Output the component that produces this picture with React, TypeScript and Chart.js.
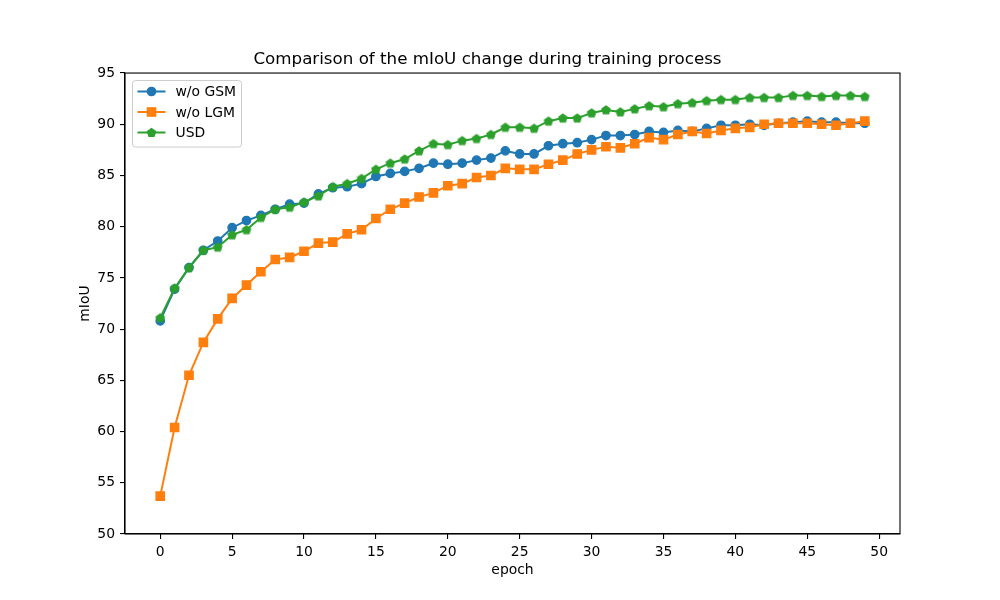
import React, { useEffect, useRef } from "react";
import { Chart, registerables } from "chart.js";

Chart.register(...registerables);

const epochs: number[] = Array.from({ length: 50 }, (_, i) => i);

const gsmValues: number[] = [
  70.8, 73.9, 76.0, 77.7, 78.6, 79.9, 80.6, 81.1, 81.7, 82.2,
  82.3, 83.2, 83.8, 83.9, 84.2, 84.9, 85.2, 85.4, 85.7, 86.2,
  86.1, 86.2, 86.5, 86.7, 87.4, 87.1, 87.1, 87.9, 88.1, 88.2,
  88.5, 88.9, 88.9, 89.0, 89.3, 89.2, 89.4, 89.3, 89.6, 89.9,
  89.9, 90.0, 89.9, 90.1, 90.2, 90.3, 90.2, 90.2, 90.1, 90.1,
];

const lgmValues: number[] = [
  53.7, 60.4, 65.5, 68.7, 71.0, 73.0, 74.3, 75.6, 76.8, 77.0,
  77.6, 78.4, 78.5, 79.3, 79.7, 80.8, 81.7, 82.3, 82.9, 83.3,
  84.0, 84.2, 84.8, 85.0, 85.7, 85.6, 85.6, 86.1, 86.5, 87.1,
  87.5, 87.8, 87.7, 88.1, 88.7, 88.5, 89.0, 89.3, 89.1, 89.4,
  89.6, 89.7, 90.0, 90.1, 90.1, 90.1, 90.0, 89.9, 90.1, 90.3,
];

const usdValues: number[] = [
  71.1, 74.0, 76.0, 77.7, 78.0, 79.2, 79.7, 80.9, 81.7, 81.9,
  82.4, 83.0, 83.9, 84.2, 84.7, 85.6, 86.2, 86.6, 87.4, 88.1,
  88.0, 88.4, 88.6, 89.0, 89.7, 89.7, 89.6, 90.3, 90.6, 90.6,
  91.1, 91.4, 91.2, 91.5, 91.8, 91.7, 92.0, 92.1, 92.3, 92.4,
  92.4, 92.6, 92.6, 92.6, 92.8, 92.8, 92.7, 92.8, 92.8, 92.7,
];

const xTicks: number[] = [0, 5, 10, 15, 20, 25, 30, 35, 40, 45, 50];
const seriesNames: string[] = ["w/o GSM", "w/o LGM", "USD"];
const seriesColors: string[] = ["#1f77b4", "#ff7f0e", "#2ca02c"];
const titleText = "Comparison of the mIoU change during training process";
const xTitle = "epoch";
const yTitle = "mIoU";

const FONT = "'DejaVu Sans', sans-serif";

function pentagonPath(ctx: CanvasRenderingContext2D, cx: number, cy: number, r: number) {
  ctx.beginPath();
  for (let i = 0; i < 5; i++) {
    const a = -Math.PI / 2 + (i * 2 * Math.PI) / 5;
    const px = cx + r * Math.cos(a);
    const py = cy + r * Math.sin(a);
    if (i === 0) ctx.moveTo(px, py);
    else ctx.lineTo(px, py);
  }
  ctx.closePath();
}

function makePentagon(color: string): HTMLCanvasElement {
  const c = document.createElement("canvas");
  c.width = 12;
  c.height = 12;
  const ctx = c.getContext("2d")!;
  pentagonPath(ctx, 6, 6.3, 4.3);
  ctx.fillStyle = color;
  ctx.fill();
  ctx.strokeStyle = color;
  ctx.lineWidth = 1.3;
  ctx.lineJoin = "miter";
  ctx.stroke();
  return c;
}

const framePlugin = {
  id: "frameBox",
  afterDatasetsDraw(chart: any) {
    const { ctx, chartArea } = chart;
    ctx.save();
    ctx.strokeStyle = "#000";
    ctx.lineWidth = 1.1;
    ctx.strokeRect(chartArea.left, chartArea.top, chartArea.right - chartArea.left, chartArea.bottom - chartArea.top);
    ctx.restore();
  },
};

const legendPlugin = {
  id: "innerLegend",
  afterDraw(chart: any) {
    const { ctx, chartArea } = chart;
    const x0 = chartArea.left + 7.5;
    const y0 = chartArea.top + 7.5;
    const w = 109;
    const h = 66.5;
    ctx.save();
    ctx.globalAlpha = 0.8;
    ctx.fillStyle = "#fff";
    ctx.strokeStyle = "#cccccc";
    ctx.lineWidth = 1;
    ctx.beginPath();
    const r = 3;
    ctx.moveTo(x0 + r, y0);
    ctx.lineTo(x0 + w - r, y0);
    ctx.quadraticCurveTo(x0 + w, y0, x0 + w, y0 + r);
    ctx.lineTo(x0 + w, y0 + h - r);
    ctx.quadraticCurveTo(x0 + w, y0 + h, x0 + w - r, y0 + h);
    ctx.lineTo(x0 + r, y0 + h);
    ctx.quadraticCurveTo(x0, y0 + h, x0, y0 + h - r);
    ctx.lineTo(x0, y0 + r);
    ctx.quadraticCurveTo(x0, y0, x0 + r, y0);
    ctx.closePath();
    ctx.fill();
    ctx.globalAlpha = 1;
    ctx.stroke();

    const rows = [91.5, 112, 132.5];
    rows.forEach((ry, i) => {
      const color = seriesColors[i];
      ctx.strokeStyle = color;
      ctx.fillStyle = color;
      ctx.lineWidth = 2;
      ctx.beginPath();
      ctx.moveTo(137.5, ry);
      ctx.lineTo(165.5, ry);
      ctx.stroke();
      const mx = 151.5;
      ctx.lineWidth = 1.3;
      if (i === 0) {
        ctx.beginPath();
        ctx.arc(mx, ry, 4.2, 0, Math.PI * 2);
        ctx.fill();
        ctx.stroke();
      } else if (i === 1) {
        ctx.beginPath();
        ctx.rect(mx - 4.2, ry - 4.2, 8.4, 8.4);
        ctx.fill();
        ctx.stroke();
      } else {
        pentagonPath(ctx, mx, ry + 0.3, 4.3);
        ctx.fill();
        ctx.stroke();
      }
      ctx.fillStyle = "#000";
      ctx.font = `13.9px ${FONT}`;
      ctx.textBaseline = "middle";
      ctx.textAlign = "left";
      ctx.fillText(seriesNames[i], 175.5, ry + 1);
    });
    ctx.restore();
  },
};

export default function App() {
  const ref = useRef<HTMLCanvasElement | null>(null);

  useEffect(() => {
    document.body.style.margin = "0";
    const canvas = ref.current;
    if (!canvas) return;
    const pent = makePentagon(seriesColors[2]);
    const toPts = (vals: number[]) => epochs.map((e, i) => ({ x: e, y: vals[i] }));

    const chart = new Chart(canvas, {
      type: "line",
      data: {
        datasets: [
          {
            label: seriesNames[0],
            data: toPts(gsmValues),
            borderColor: seriesColors[0],
            backgroundColor: seriesColors[0],
            borderWidth: 2,
            pointStyle: "circle",
            pointRadius: 4.2,
            pointBorderWidth: 1.3,
            order: 3,
          },
          {
            label: seriesNames[1],
            data: toPts(lgmValues),
            borderColor: seriesColors[1],
            backgroundColor: seriesColors[1],
            borderWidth: 2,
            pointStyle: "rect",
            pointRadius: 5.9,
            pointBorderWidth: 1.3,
            order: 2,
          },
          {
            label: seriesNames[2],
            data: toPts(usdValues),
            borderColor: seriesColors[2],
            backgroundColor: seriesColors[2],
            borderWidth: 2,
            pointStyle: pent as any,
            pointRadius: 4.3,
            order: 1,
          },
        ],
      },
      options: {
        responsive: false,
        animation: false,
        devicePixelRatio: 1,
        layout: { padding: { left: 75, right: 100, top: 0, bottom: 20 } },
        plugins: {
          legend: { display: false },
          tooltip: { enabled: false },
          title: {
            display: true,
            text: titleText,
            color: "#000",
            font: { family: FONT, size: 16.7, weight: "normal" as any },
            padding: { top: 50, bottom: 3 },
          },
        },
        scales: {
          x: {
            type: "linear",
            min: -2.45,
            max: 51.45,
            afterBuildTicks: (scale: any) => {
              scale.ticks = xTicks.map((v) => ({ value: v }));
            },
            afterFit: (scale: any) => {
              scale.height = 46;
            },
            ticks: {
              color: "#000",
              font: { family: FONT, size: 13.9 },
              padding: 5,
              maxRotation: 0,
              autoSkip: false,
            },
            grid: {
              drawOnChartArea: false,
              drawTicks: true,
              tickLength: 5,
              color: "#000",
              lineWidth: 1.1,
            },
            border: { display: true, color: "#000", width: 1.1 },
            title: {
              display: true,
              text: xTitle,
              color: "#000",
              font: { family: FONT, size: 13.9 },
              padding: { top: 2, bottom: 1 },
            },
          },
          y: {
            type: "linear",
            min: 50,
            max: 95,
            afterFit: (scale: any) => {
              scale.width = 50;
            },
            ticks: {
              stepSize: 5,
              color: "#000",
              font: { family: FONT, size: 13.9 },
              padding: 5,
            },
            grid: {
              drawOnChartArea: false,
              drawTicks: true,
              tickLength: 5,
              color: "#000",
              lineWidth: 1.1,
            },
            border: { display: true, color: "#000", width: 1.1 },
            title: {
              display: true,
              text: yTitle,
              color: "#000",
              font: { family: FONT, size: 13.9 },
              padding: { top: 2, bottom: 2 },
            },
          },
        },
      },
      plugins: [framePlugin, legendPlugin],
    });

    return () => chart.destroy();
  }, []);

  return (
    <div style={{ width: 1000, height: 600, background: "#fff" }}>
      <canvas ref={ref} width={1000} height={600} style={{ display: "block", width: 1000, height: 600 }} />
    </div>
  );
}
